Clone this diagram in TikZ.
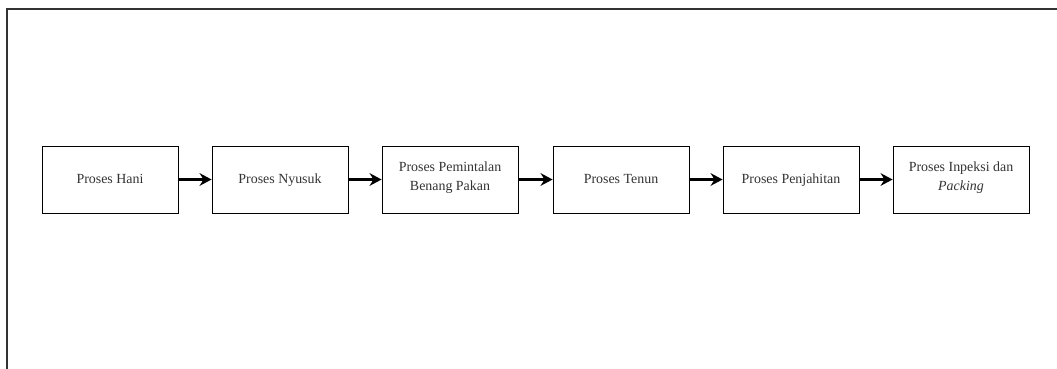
\documentclass[tikz,border=0pt]{standalone}
\usepackage{fontspec}
\setmainfont{Liberation Serif}
\usetikzlibrary{arrows.meta}
\begin{document}
\begin{tikzpicture}
[x=0.025cm,y=-0.025cm
,pb/.style={draw=black,fill=white,minimum width=3.4cm,minimum height=1.675cm,align=center,text=black!80,font=\fontsize{9.9}{13.5}\selectfont,line width=0.6pt,execute at begin node=\strut,execute at end node=\strut}
,pe/.style={draw=black,line width=1.5pt,arrows={-Stealth[length=8.5pt,width=9pt]}}
,frame/.style={draw=black!80,line width=1.4pt}]
\useasboundingbox (0,0) rectangle (1057,368);
\draw[frame] (7,370) -- (7,9) -- (1060,9);
\node[pb] (p1) at (110,179.5) {Proses Hani};
\node[pb] (p2) at (280,179.5) {Proses Nyusuk};
\node[pb] (p3) at (450,179.5) {Proses Pemintalan\\Benang Pakan};
\node[pb] (p4) at (621,179.5) {Proses Tenun};
\node[pb] (p5) at (791,179.5) {Proses Penjahitan};
\node[pb] (p6) at (961,179.5) {Proses Inpeksi dan\\\textit{Packing}};
\draw[pe] (p1) -- (p2);
\draw[pe] (p2) -- (p3);
\draw[pe] (p3) -- (p4);
\draw[pe] (p4) -- (p5);
\draw[pe] (p5) -- (p6);
\end{tikzpicture}
\end{document}
